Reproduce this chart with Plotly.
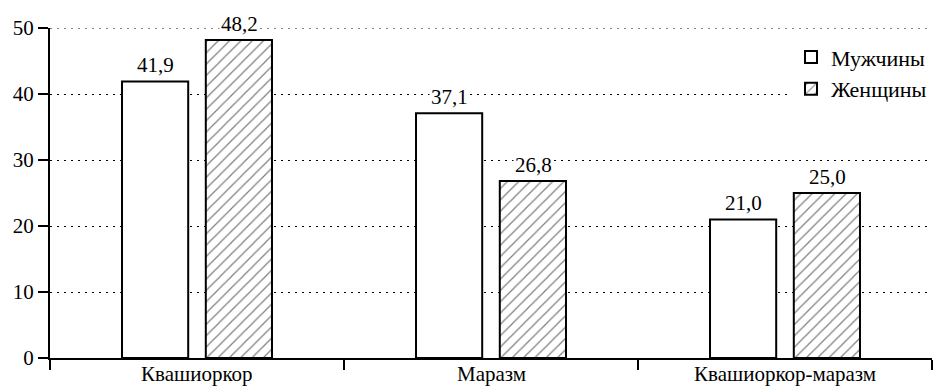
import plotly.graph_objects as go

categories = ["Квашиоркор", "Маразм", "Квашиоркор-маразм"]
men = [41.9, 37.1, 21.0]
women = [48.2, 26.8, 25.0]
series_names = ["Мужчины", "Женщины"]
y_ticks = [0, 10, 20, 30, 40, 50]

FONT = "Liberation Serif, Times New Roman, serif"
FS = 21
xpos = list(range(len(categories)))

fig = go.Figure()
fig.add_trace(go.Bar(
    x=xpos, y=men, name=series_names[0],
    marker=dict(color="white", line=dict(color="black", width=2)),
))
fig.add_trace(go.Bar(
    x=xpos, y=women, name=series_names[1],
    marker=dict(color="white", line=dict(color="black", width=2),
                pattern=dict(shape="/", fgcolor="black", bgcolor="white", size=8, solidity=0.15)),
))

def fmt(v):
    return f"{v:.1f}".replace(".", ",")

for i, (m, w) in enumerate(zip(men, women)):
    for v, sh in ((m, -42), (w, 42)):
        fig.add_annotation(x=i, y=v, text=fmt(v), showarrow=False, xshift=sh, yshift=2,
                           yanchor="bottom", bgcolor="white", borderpad=1,
                           font=dict(family=FONT, size=FS, color="black"))

# category labels under the axis
for i, c in enumerate(categories):
    fig.add_annotation(x=i, xref="x", y=0, yref="paper", text=c, showarrow=False,
                       yanchor="top", yshift=-3, borderpad=0,
                       font=dict(family=FONT, size=FS, color="black"))

# dotted line at the top tick (plotly omits the gridline at the range edge)
fig.add_shape(type="line", xref="paper", x0=0, x1=1, yref="y", y0=y_ticks[-1], y1=y_ticks[-1],
              line=dict(color="black", width=1, dash="2px,5px"), layer="below")

fig.update_layout(
    width=935, height=387,
    margin=dict(l=50, r=3, t=28, b=29),
    paper_bgcolor="white", plot_bgcolor="white",
    barmode="group", bargap=0.43, bargroupgap=0.21,
    font=dict(family=FONT, size=FS, color="black"),
    legend=dict(x=1, xanchor="right", y=0.975, yanchor="top", bgcolor="white",
                font=dict(family=FONT, size=22, color="black"), itemwidth=30,
                tracegroupgap=0),
    xaxis=dict(range=[-0.5, 2.5], tickmode="array", tickvals=xpos, ticktext=["", "", ""],
               ticks="", showline=True, linecolor="black", linewidth=2, showgrid=False,
               zeroline=False, automargin=False,
               minor=dict(tick0=-0.5, dtick=1, ticks="outside", ticklen=10, tickwidth=2,
                          tickcolor="black", showgrid=False)),
    yaxis=dict(range=[0, 50], tickmode="array", tickvals=y_ticks, ticks="outside",
               ticklen=10, tickwidth=1.5, tickcolor="black", showline=True, linecolor="black",
               linewidth=2, showgrid=True, gridcolor="black", gridwidth=1, griddash="2px,5px",
               zeroline=False, automargin=False),
)

fig.write_html("out.html", config={"displayModeBar": False},
               post_script="document.body.style.margin='0';document.body.style.padding='0';")
